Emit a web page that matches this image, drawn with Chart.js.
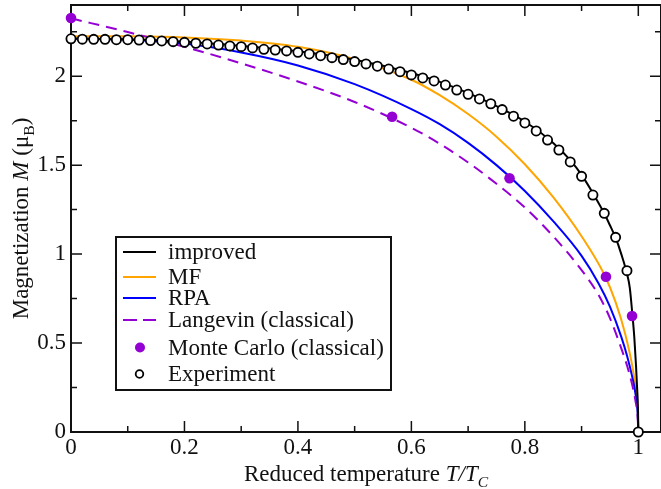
<!DOCTYPE html>
<html><head><meta charset="utf-8">
<script src="https://cdn.jsdelivr.net/npm/chart.js@4"></script>
<style>html,body{margin:0;padding:0;background:#fff}</style>
</head><body>
<canvas id="c" width="661" height="489"></canvas>
<script>
// ---------- data ----------
const xTicks = [0, 0.2, 0.4, 0.6, 0.8, 1.0];
const xTickLabels = ['0', '0.2', '0.4', '0.6', '0.8', '1'];
const yTicks = [0, 0.5, 1, 1.5, 2];
const yTickLabels = ['0', '0.5', '1', '1.5', '2'];
const xMinor = [0.1, 0.3, 0.5, 0.7, 0.9];
const yMinor = [0.25, 0.75, 1.25, 1.75, 2.25];

const impT = [0, 0.1, 0.2, 0.3, 0.4, 0.5, 0.6, 0.65, 0.7, 0.75, 0.8, 0.85, 0.88, 0.9, 0.92, 0.94, 0.95, 0.96, 0.97, 0.98, 0.985, 0.989, 0.993, 0.996, 0.998, 0.9995, 1.0];
const impM = [2.212, 2.207, 2.193, 2.170, 2.140, 2.092, 2.018, 1.968, 1.905, 1.832, 1.745, 1.625, 1.528, 1.445, 1.342, 1.228, 1.162, 1.092, 1.0, 0.89, 0.81, 0.68, 0.53, 0.37, 0.24, 0.12, 0];

const mfT = [0, 0.1, 0.2, 0.3, 0.4, 0.5, 0.6, 0.65, 0.7, 0.75, 0.8, 0.85, 0.9, 0.94, 0.96, 0.977, 0.99, 0.995, 0.999, 1.0];
const mfM = [2.225, 2.224, 2.218, 2.2, 2.165, 2.095, 1.98, 1.893, 1.787, 1.66, 1.505, 1.32, 1.10, 0.885, 0.73, 0.55, 0.36, 0.25, 0.11, 0];

const rpaT = [0, 0.1, 0.2, 0.3, 0.4, 0.5, 0.6, 0.65, 0.7, 0.75, 0.8, 0.85, 0.9, 0.93, 0.95, 0.97, 0.98, 0.99, 0.995, 0.999, 1.0];
const rpaM = [2.21, 2.205, 2.183, 2.133, 2.06, 1.955, 1.815, 1.73, 1.625, 1.50, 1.355, 1.185, 0.99, 0.835, 0.705, 0.535, 0.43, 0.30, 0.215, 0.095, 0];

const langT = [0, 0.1, 0.2, 0.3, 0.4, 0.5, 0.6, 0.65, 0.7, 0.75, 0.8, 0.85, 0.9, 0.93, 0.95, 0.97, 0.98, 0.99, 0.995, 0.999, 1.0];
const langM = [2.325, 2.248, 2.165, 2.072, 1.97, 1.855, 1.71, 1.62, 1.515, 1.395, 1.262, 1.10, 0.91, 0.77, 0.64, 0.47, 0.375, 0.255, 0.175, 0.075, 0];

const mcT = [0, 0.566, 0.773, 0.943, 0.989];
const mcM = [2.327, 1.772, 1.426, 0.873, 0.652];

const expT = [0.00,0.02,0.04,0.06,0.08,0.10,0.12,0.14,0.16,0.18,0.20,0.22,0.24,0.26,0.28,0.30,0.32,0.34,0.36,0.38,0.40,0.42,0.44,0.46,0.48,0.50,0.52,0.54,0.56,0.58,0.60,0.62,0.64,0.66,0.68,0.70,0.72,0.74,0.76,0.78,0.80,0.82,0.84,0.86,0.88,0.90,0.92,0.94,0.96,0.98,1.00];
const expM = [2.21,2.208,2.207,2.207,2.205,2.205,2.203,2.200,2.198,2.194,2.190,2.185,2.181,2.175,2.170,2.166,2.159,2.151,2.147,2.142,2.134,2.125,2.115,2.104,2.093,2.082,2.069,2.056,2.040,2.025,2.007,1.990,1.973,1.950,1.922,1.898,1.872,1.845,1.812,1.775,1.737,1.692,1.641,1.585,1.518,1.437,1.332,1.229,1.094,0.907,0];

const labels = ['improved', 'MF', 'RPA', 'Langevin (classical)', 'Monte Carlo (classical)', 'Experiment'];
// ---------- styling ----------
const SERIF = '"Liberation Serif", "Times New Roman", Times, serif';
const FS = 23;
const INK = '#111';
const VIOLET = '#9400d3';
const zip = (xs, ys) => xs.map((x, i) => ({x, y: ys[i]}));

const lineDs = (label, xs, ys, color, dash, order) => ({
  label, data: zip(xs, ys), borderColor: color, backgroundColor: color,
  borderWidth: 2, borderDash: dash || [], pointRadius: 0, fill: false,
  cubicInterpolationMode: 'monotone', order
});

const framePlugin = {
  id: 'frame',
  beforeDatasetsDraw(chart) {
    const {ctx, chartArea: a, scales: {x, y}} = chart;
    ctx.save();
    ctx.strokeStyle = INK; ctx.lineWidth = 2;
    ctx.strokeRect(a.left, a.top, a.right - a.left, a.bottom - a.top);
    ctx.lineWidth = 1.5;
    const tick = (px, len, horiz) => {
      ctx.beginPath();
      if (horiz) {
        ctx.moveTo(px, a.bottom); ctx.lineTo(px, a.bottom - len);
        ctx.moveTo(px, a.top); ctx.lineTo(px, a.top + len);
      } else {
        ctx.moveTo(a.left, px); ctx.lineTo(a.left + len, px);
        ctx.moveTo(a.right, px); ctx.lineTo(a.right - len, px);
      }
      ctx.stroke();
    };
    xTicks.forEach(v => tick(x.getPixelForValue(v), 11, true));
    xMinor.forEach(v => tick(x.getPixelForValue(v), 6, true));
    yTicks.forEach(v => tick(y.getPixelForValue(v), 11, false));
    yMinor.forEach(v => tick(y.getPixelForValue(v), 6, false));
    ctx.restore();
  }
};

function drawRich(ctx, segs, cx, base, size) {
  const parts = segs.map(s => {
    const fs = s.sub ? size * 0.68 : size;
    ctx.font = (s.it ? 'italic ' : '') + fs + 'px ' + SERIF;
    return Object.assign({}, s, {fs, w: ctx.measureText(s.t).width});
  });
  const total = parts.reduce((a, p) => a + p.w, 0);
  let px = cx - total / 2;
  ctx.textAlign = 'left'; ctx.textBaseline = 'alphabetic';
  parts.forEach(p => {
    ctx.font = (p.it ? 'italic ' : '') + p.fs + 'px ' + SERIF;
    ctx.fillText(p.t, px, base + (p.sub ? size * 0.28 : 0));
    px += p.w;
  });
}

const titlePlugin = {
  id: 'titles',
  afterDraw(chart) {
    const {ctx, chartArea: a} = chart;
    ctx.save();
    ctx.fillStyle = INK;
    drawRich(ctx, [{t: 'Reduced temperature '}, {t: 'T/T', it: true}, {t: 'C', it: true, sub: true}],
      366, 481, FS);
    ctx.translate(28, (a.top + a.bottom) / 2);
    ctx.rotate(-Math.PI / 2);
    drawRich(ctx, [{t: 'Magnetization '}, {t: 'M', it: true}, {t: ' (\u03bc'}, {t: 'B', sub: true}, {t: ')'}], 0, 0, FS);
    ctx.restore();
  }
};

const legendPlugin = {
  id: 'customLegend',
  afterDraw(chart) {
    const {ctx} = chart;
    const ds = chart.data.datasets;
    const rowsY = [252, 277, 298, 320, 347.5, 374];
    const orderIdx = labels.map(l => ds.findIndex(d => d.label === l));
    ctx.save();
    ctx.fillStyle = '#fff';
    ctx.fillRect(116, 237, 275, 153);
    ctx.strokeStyle = INK; ctx.lineWidth = 2;
    ctx.strokeRect(116, 237, 275, 153);
    orderIdx.forEach((di, r) => {
      const d = ds[di]; const yy = rowsY[r];
      if (d.showLine === false) {
        ctx.beginPath();
        if (d.label === 'Experiment') {
          ctx.arc(139.5, yy, 3.8, 0, Math.PI * 2);
          ctx.fillStyle = '#fff'; ctx.fill();
          ctx.lineWidth = 1.8; ctx.strokeStyle = '#000'; ctx.stroke();
        } else {
          ctx.arc(140, yy, 5, 0, Math.PI * 2);
          ctx.fillStyle = d.backgroundColor; ctx.fill();
        }
      } else {
        ctx.beginPath();
        ctx.setLineDash(d.borderDash && d.borderDash.length ? [14, 6] : []);
        ctx.strokeStyle = d.borderColor; ctx.lineWidth = 2;
        ctx.moveTo(123, yy); ctx.lineTo(156, yy); ctx.stroke();
        ctx.setLineDash([]);
      }
      ctx.fillStyle = INK;
      ctx.font = FS + 'px ' + SERIF;
      ctx.textAlign = 'left'; ctx.textBaseline = 'alphabetic';
      ctx.fillText(d.label, 168, yy + 7);
    });
    ctx.restore();
  }
};

new Chart(document.getElementById('c'), {
  type: 'line',
  data: {
    datasets: [
      {label: 'Experiment', data: zip(expT, expM), showLine: false, pointRadius: 4.6,
       pointBorderWidth: 1.8, pointBackgroundColor: '#fff', pointBorderColor: '#000',
       backgroundColor: '#fff', borderColor: '#000', clip: false, order: 0},
      {label: 'Monte Carlo (classical)', data: zip(mcT, mcM), showLine: false, pointRadius: 5.3,
       pointBorderWidth: 0, pointBackgroundColor: VIOLET, backgroundColor: VIOLET, borderColor: VIOLET,
       clip: false, order: 1},
      lineDs('improved', impT, impM, '#000', null, 2),
      lineDs('MF', mfT, mfM, '#ffa500', null, 5),
      lineDs('RPA', rpaT, rpaM, '#0000ff', null, 4),
      lineDs('Langevin (classical)', langT, langM, VIOLET, [11, 7], 3)
    ]
  },
  options: {
    responsive: false, animation: false,
    layout: {padding: {top: 5, right: 0, left: 0, bottom: 0}, autoPadding: false},
    plugins: {legend: {display: false}, tooltip: {enabled: false}},
    scales: {
      x: {
        type: 'linear', min: 0, max: 1.04,
        afterBuildTicks: s => { s.ticks = xTicks.map(v => ({value: v})); },
        afterFit: s => { s.height = 57; s.paddingLeft = 0; s.paddingRight = 0; },
        grid: {display: false, drawTicks: false}, border: {display: false},
        ticks: {font: {family: SERIF, size: FS}, color: INK, padding: 2, maxRotation: 0, autoSkip: false,
                callback: (v, i) => xTickLabels[i]}
      },
      y: {
        type: 'linear', min: 0, max: 2.4,
        afterBuildTicks: s => { s.ticks = yTicks.map(v => ({value: v})); },
        afterFit: s => { s.width = 71; s.paddingTop = 0; s.paddingBottom = 0; },
        grid: {display: false, drawTicks: false}, border: {display: false},
        ticks: {font: {family: SERIF, size: FS}, color: INK, padding: 5, autoSkip: false,
                callback: (v, i) => yTickLabels[i]}
      }
    }
  },
  plugins: [framePlugin, titlePlugin, legendPlugin]
});
</script>
</body></html>
